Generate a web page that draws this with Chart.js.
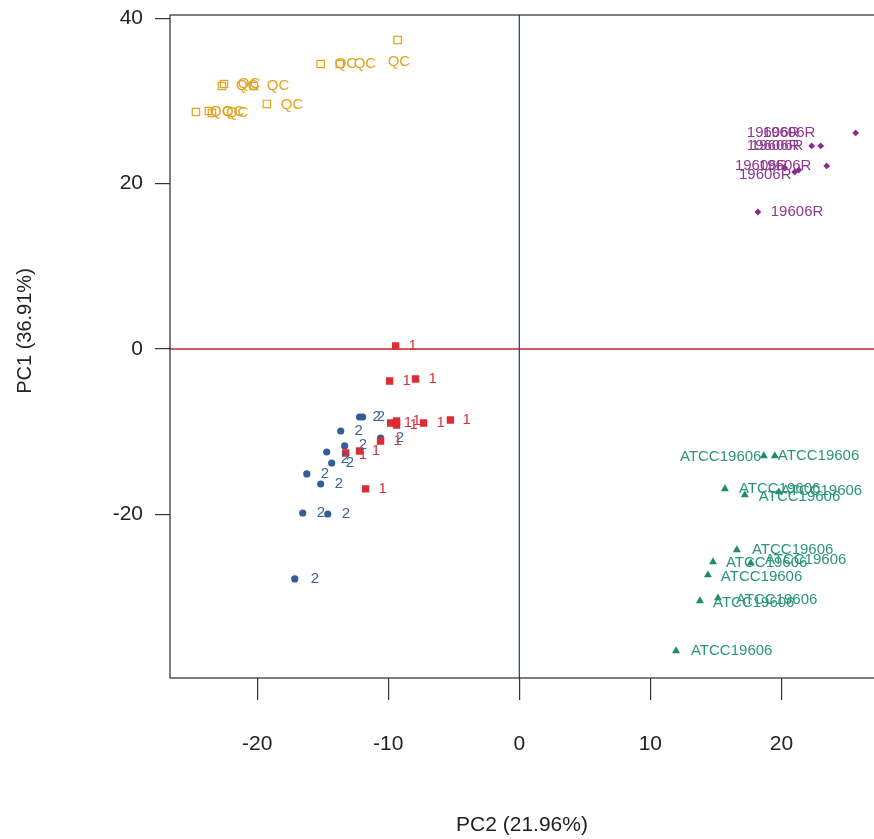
<!DOCTYPE html>
<html><head><meta charset="utf-8">
<script src="https://cdn.jsdelivr.net/npm/chart.js@4.4.0/dist/chart.umd.min.js"></script>
<style>html,body{margin:0;padding:0;background:#fff;overflow:hidden;}canvas{display:block;}</style>
</head><body>
<canvas id="c" width="890" height="839" style="width:890px;height:839px"></canvas>
<script>
// ---- data (PC2 = x, PC1 = y) ----
const groupNames = ['QC', '1', '2', '19606R', 'ATCC19606'];

const qcPC2 = [-9.29, -15.16, -13.71, -22.54, -22.70, -20.26, -19.27, -24.68, -23.69, -23.46];
const qcPC1 = [37.38, 34.47, 34.47, 32.05, 31.81, 31.81, 29.64, 28.67, 28.79, 28.55];
const qcLabPC2 = [-10.05, -14.09, -12.64, -21.48, -21.63, -19.27, -18.20, -23.61, -22.70, -22.39];
const qcLabPC1 = [34.72, 34.47, 34.47, 32.05, 31.81, 31.81, 29.51, 28.67, 28.67, 28.55];

const g1PC2 = [-9.44, -9.90, -7.92, -9.82, -9.37, -9.37, -7.31, -5.26, -10.59, -13.25, -12.19, -11.73];
const g1PC1 = [0.36, -3.87, -3.63, -8.95, -8.71, -9.19, -8.95, -8.59, -11.13, -12.58, -12.34, -16.93];
const g1LabPC2 = [-8.45, -8.91, -6.93, -8.83, -8.15, -8.38, -6.32, -4.34, -9.60, -12.26, -11.27, -10.74];
const g1LabPC1 = [0.36, -3.87, -3.63, -8.95, -8.71, -9.19, -8.95, -8.59, -11.13, -12.82, -12.34, -16.93];

const g2PC2 = [-12.19, -11.96, -13.63, -10.59, -13.33, -14.70, -14.32, -16.22, -15.16, -16.53, -14.62, -17.14];
const g2PC1 = [-8.23, -8.23, -9.92, -10.77, -11.73, -12.46, -13.79, -15.12, -16.33, -19.84, -19.96, -27.82];
const g2LabPC2 = [-11.20, -10.89, -12.57, -9.44, -12.26, -13.63, -13.25, -15.16, -14.09, -15.46, -13.56, -15.92];
const g2LabPC1 = [-8.23, -8.23, -9.92, -10.77, -11.61, -13.31, -13.79, -15.12, -16.33, -19.84, -19.96, -27.82];

const rPC2 = [25.67, 23.00, 22.31, 23.46, 21.32, 21.02, 20.26, 18.20];
const rPC1 = [26.13, 24.56, 24.56, 22.14, 21.65, 21.41, 21.89, 16.57];
const rLabPC2 = [18.58, 17.36, 17.67, 17.36, 18.28, 16.45, 16.76, 19.19];
const rLabPC1 = [26.13, 26.13, 24.56, 24.56, 22.14, 22.14, 21.05, 16.57];

const aPC2 = [18.66, 19.50, 15.69, 17.21, 19.80, 16.60, 14.78, 17.67, 14.39, 13.78, 15.16, 11.96];
const aPC1 = [-12.94, -12.94, -16.93, -17.66, -17.30, -24.31, -25.76, -25.89, -27.34, -30.48, -30.12, -36.53];
const aLabPC2 = [12.26, 19.73, 16.76, 18.28, 19.95, 17.75, 15.77, 18.74, 15.38, 14.78, 16.53, 13.10];
const aLabPC1 = [-13.06, -12.94, -16.93, -17.90, -17.18, -24.31, -25.89, -25.52, -27.58, -30.72, -30.36, -36.53];

const xTicks = [-20, -10, 0, 10, 20];
const yTicks = [-20, 0, 20, 40];
const xTitle = 'PC2 (21.96%)';
const yTitle = 'PC1 (36.91%)';

// ---- build ----
const FONT = '"Liberation Sans", Arial, sans-serif';
const pts = (xs, ys) => xs.map((v, i) => ({x: v, y: ys[i]}));

const datasets = [
  {label: groupNames[0], data: pts(qcPC2, qcPC1), labelPts: pts(qcLabPC2, qcLabPC1),
   pointStyle: 'rect', radius: 5.2, borderWidth: 1.2, borderColor: '#E3A21A', backgroundColor: 'rgba(255,255,255,0)', txt: '#E3A21A'},
  {label: groupNames[1], data: pts(g1PC2, g1PC1), labelPts: pts(g1LabPC2, g1LabPC1),
   pointStyle: 'rect', radius: 5.2, borderWidth: 0, borderColor: '#DD2C33', backgroundColor: '#DD2C33', txt: '#D8333A'},
  {label: groupNames[2], data: pts(g2PC2, g2PC1), labelPts: pts(g2LabPC2, g2LabPC1),
   pointStyle: 'circle', radius: 3.6, borderWidth: 0, borderColor: '#325E96', backgroundColor: '#325E96', txt: '#3D6398'},
  {label: groupNames[3], data: pts(rPC2, rPC1), labelPts: pts(rLabPC2, rLabPC1),
   pointStyle: 'rectRot', radius: 3.4, borderWidth: 0, borderColor: '#8C2A8E', backgroundColor: '#8C2A8E', txt: '#8E3790'},
  {label: groupNames[4], data: pts(aPC2, aPC1), labelPts: pts(aLabPC2, aLabPC1),
   pointStyle: 'triangle', radius: 4.6, borderWidth: 0, borderColor: '#1E8A6C', backgroundColor: '#1E8A6C', txt: '#2A9578'}
];

const framePlugin = {
  id: 'frame',
  beforeDatasetsDraw(chart) {
    const {ctx, chartArea: a, scales: {x, y}} = chart;
    ctx.save();
    ctx.lineWidth = 1.3;
    const y0 = y.getPixelForValue(0);
    const x0 = x.getPixelForValue(0);
    ctx.strokeStyle = '#C3262C';
    ctx.beginPath(); ctx.moveTo(a.left, y0); ctx.lineTo(a.right, y0); ctx.stroke();
    ctx.strokeStyle = '#2B40B8';
    ctx.beginPath(); ctx.moveTo(x0, a.top); ctx.lineTo(x0, a.bottom); ctx.stroke();
    ctx.restore();
  },
  afterDatasetsDraw(chart) {
    const {ctx, chartArea: a, scales: {x, y}} = chart;
    ctx.save();
    ctx.font = '15px ' + FONT;
    ctx.textAlign = 'left';
    ctx.textBaseline = 'middle';
    chart.data.datasets.forEach(ds => {
      ctx.fillStyle = ds.txt;
      ds.labelPts.forEach(p => {
        ctx.fillText(ds.label, x.getPixelForValue(p.x), y.getPixelForValue(p.y));
      });
    });
    ctx.strokeStyle = '#2a2a2a';
    ctx.lineWidth = 1.2;
    ctx.strokeRect(a.left, a.top, a.right - a.left, a.bottom - a.top);
    // axis titles
    ctx.fillStyle = '#222';
    ctx.textAlign = 'center';
    ctx.textBaseline = 'middle';
    ctx.font = '21px ' + FONT;
    ctx.fillText(xTitle, 522, 825);
    ctx.translate(25, 331);
    ctx.rotate(-Math.PI / 2);
    ctx.font = '20px ' + FONT;
    ctx.fillText(yTitle, 0, 0);
    ctx.restore();
  }
};

Chart.defaults.font.family = FONT;
new Chart(document.getElementById('c'), {
  type: 'scatter',
  data: {datasets},
  options: {
    responsive: false,
    animation: false,
    devicePixelRatio: 1,
    layout: {padding: {left: 0, top: 15, right: 5, bottom: 0}},
    plugins: {legend: {display: false}, tooltip: {enabled: false}},
    scales: {
      x: {
        type: 'linear', min: -26.66, max: 27.8,
        afterBuildTicks: s => { s.ticks = xTicks.map(v => ({value: v})); },
        afterFit: s => { s.height = 161; s.paddingLeft = 0; s.paddingRight = 0; },
        border: {display: false},
        grid: {drawOnChartArea: false, drawTicks: true, tickLength: 22, color: '#333', lineWidth: 1.2},
        ticks: {font: {size: 21}, color: '#222', padding: 32, maxRotation: 0, autoSkip: false},
        title: {display: false}
      },
      y: {
        type: 'linear', min: -39.8, max: 40.4,
        afterBuildTicks: s => { s.ticks = yTicks.map(v => ({value: v})); },
        afterFit: s => { s.width = 170; s.paddingTop = 0; s.paddingBottom = 0; },
        border: {display: false},
        grid: {drawOnChartArea: false, drawTicks: true, tickLength: 15, color: '#333', lineWidth: 1.2},
        ticks: {font: {size: 21}, color: '#222', padding: 12, autoSkip: false},
        title: {display: false}
      }
    }
  },
  plugins: [framePlugin]
});
</script>
</body></html>
